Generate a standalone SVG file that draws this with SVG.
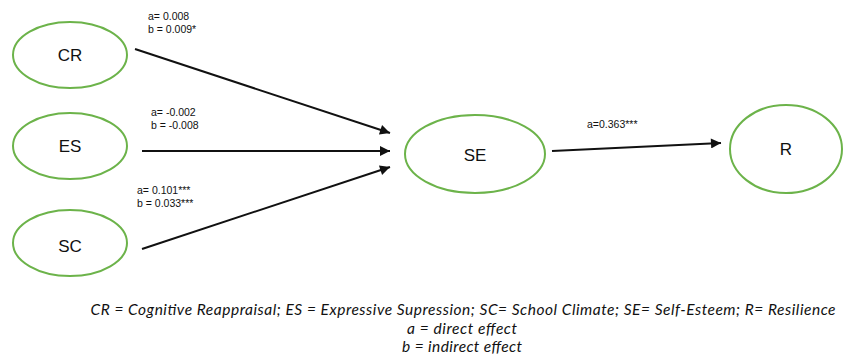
<svg xmlns="http://www.w3.org/2000/svg" width="843" height="364" viewBox="0 0 843 364">
<defs>
<style>
.node ellipse{fill:#fff;stroke:#6cb34a;stroke-width:2}
.nl{font-family:"Liberation Sans",Arial,sans-serif;font-size:17px;fill:#111;text-anchor:middle}
.el{font-family:"Liberation Sans",Arial,sans-serif;font-size:10.5px;fill:#111}
.conn line{stroke:#111;stroke-width:2;fill:none}
.leg{font-family:Lato,"Open Sans",sans-serif;font-style:italic;font-size:15.5px;fill:#111;text-anchor:middle}
</style>
<marker id="ah" viewBox="0 0 10 10" refX="10" refY="5" markerWidth="6" markerHeight="5" markerUnits="strokeWidth" orient="auto">
<path d="M0,0 L10,5 L0,10 Z" fill="#111"/>
</marker>
</defs>
<rect width="843" height="364" fill="#fff"/>
<g id="connectors" class="conn">
<line x1="135" y1="49" x2="390" y2="133" marker-end="url(#ah)"/>
<line x1="142" y1="151" x2="390" y2="151" marker-end="url(#ah)"/>
<line x1="142" y1="249" x2="390" y2="167" marker-end="url(#ah)"/>
<line x1="552" y1="151" x2="721" y2="143" marker-end="url(#ah)"/>
</g>
<g id="edge-labels">
<text class="el" x="148" y="20">a= 0.008</text>
<text class="el" x="148" y="33">b = 0.009*</text>
<text class="el" x="151" y="116">a= -0.002</text>
<text class="el" x="151" y="129">b = -0.008</text>
<text class="el" x="137" y="194">a= 0.101***</text>
<text class="el" x="137" y="207">b = 0.033***</text>
<text class="el" x="587" y="128">a=0.363***</text>
</g>
<g id="node-CR" class="node"><ellipse cx="70" cy="55" rx="57" ry="33"/><text class="nl" x="70" y="61">CR</text></g>
<g id="node-ES" class="node"><ellipse cx="70" cy="146" rx="57" ry="33"/><text class="nl" x="70" y="152">ES</text></g>
<g id="node-SC" class="node"><ellipse cx="70" cy="243" rx="57" ry="33"/><text class="nl" x="70" y="252">SC</text></g>
<g id="node-SE" class="node"><ellipse cx="475" cy="154" rx="70" ry="39"/><text class="nl" x="475" y="161">SE</text></g>
<g id="node-R" class="node"><ellipse cx="786" cy="149" rx="56" ry="44"/><text class="nl" x="786" y="155">R</text></g>
<g id="legend">
<text class="leg" x="463" y="315" textLength="745" lengthAdjust="spacing">CR = Cognitive Reappraisal; ES = Expressive Supression; SC= School Climate; SE= Self-Esteem; R= Resilience</text>
<text class="leg" x="462" y="333.5" textLength="110" lengthAdjust="spacing">a = direct effect</text>
<text class="leg" x="462" y="352" textLength="120" lengthAdjust="spacing">b = indirect effect</text>
</g>
</svg>
